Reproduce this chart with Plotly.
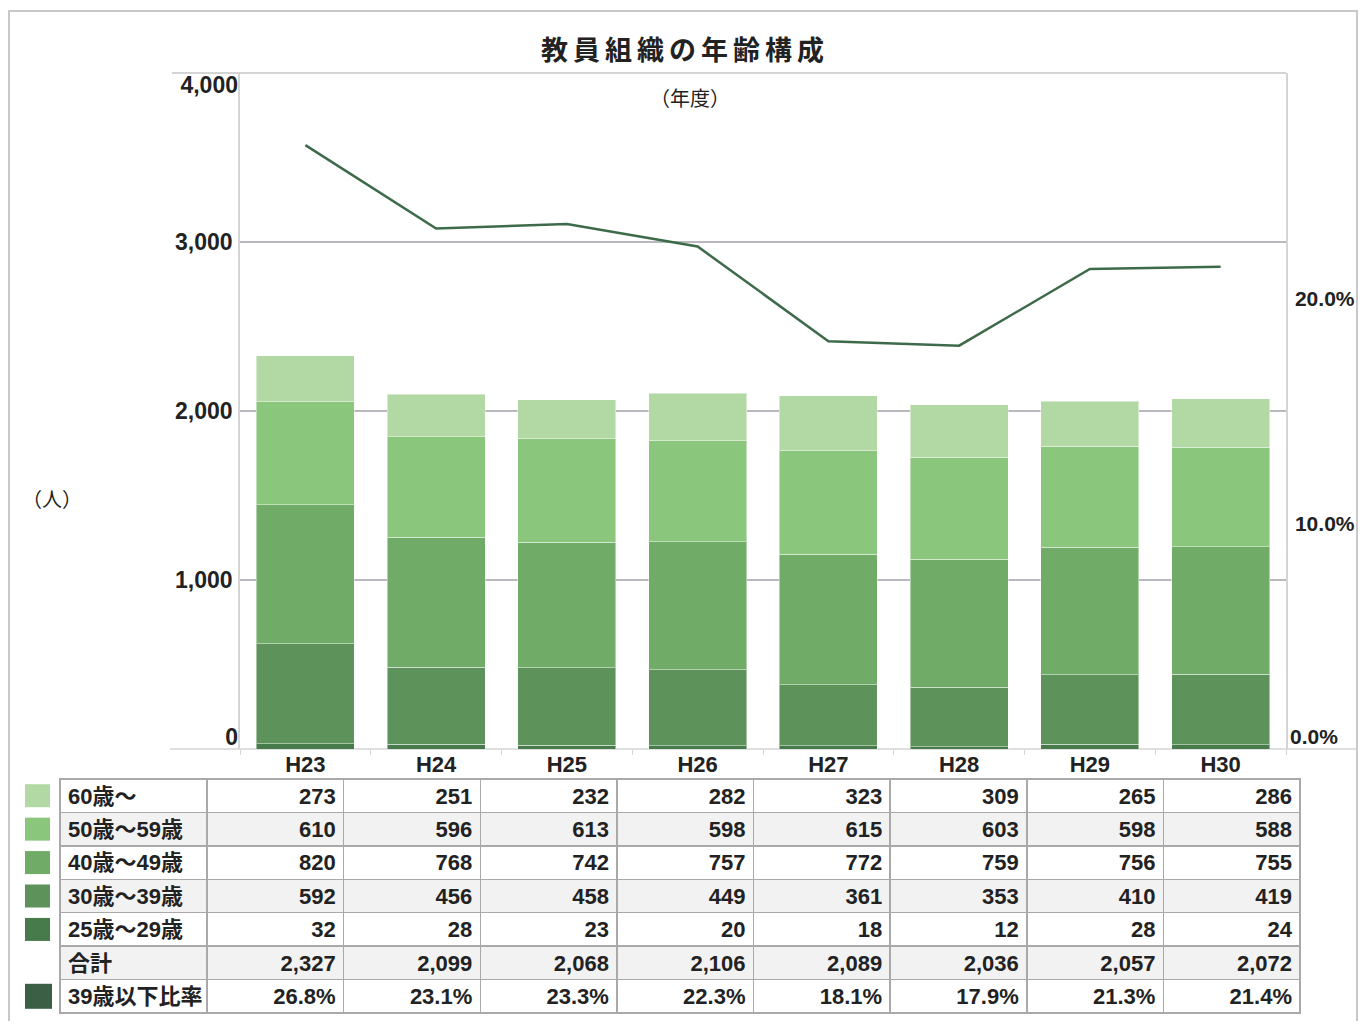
import plotly.graph_objects as go

# ---------------- data ----------------
years = ["H23", "H24", "H25", "H26", "H27", "H28", "H29", "H30"]
age_60_plus = [273, 251, 232, 282, 323, 309, 265, 286]
age_50_59 = [610, 596, 613, 598, 615, 603, 598, 588]
age_40_49 = [820, 768, 742, 757, 772, 759, 756, 755]
age_30_39 = [592, 456, 458, 449, 361, 353, 410, 419]
age_25_29 = [32, 28, 23, 20, 18, 12, 28, 24]
totals = [2327, 2099, 2068, 2106, 2089, 2036, 2057, 2072]
ratio_39_under = [26.8, 23.1, 23.3, 22.3, 18.1, 17.9, 21.3, 21.4]  # percent

row_labels = ["60歳〜", "50歳〜59歳", "40歳〜49歳", "30歳〜39歳", "25歳〜29歳", "合計", "39歳以下比率"]
title_text = "教員組織の年齢構成"
left_ticks_mid = [1000, 2000, 3000]
left_tick_min, left_tick_max = 0, 4000
right_ticks_mid = [0.1, 0.2]
right_tick_min = 0.0

# ---------------- styles ----------------
OFF = 8                     # default page body margin
W, H = 1366 - 2 * OFF, 1029 - 2 * OFF
col_60 = "#b2d9a4"
col_50 = "#8ac67c"
col_40 = "#70ab67"
col_30 = "#5d935a"
col_25 = "#487b4c"
col_ratio_line = "#3d6b4a"
col_ratio_swatch = "#3a5f45"
grid_col = "#b8b8be"
frame_col = "#d4d4d4"
text_col = "#222222"
sans = "Liberation Sans, Arial, Noto Sans CJK JP, sans-serif"
cjk = "Noto Sans CJK JP, sans-serif"


def px_x(p):
    return (p - OFF) / W


def px_y(p):
    return 1 - (p - OFF) / H


plot_l, plot_r, plot_t, plot_b = 240, 1286, 73, 749
y_range = [0, 4000]
y2_range = [0, 0.30]

fig = go.Figure()

series = [
    ("25歳〜29歳", age_25_29, col_25),
    ("30歳〜39歳", age_30_39, col_30),
    ("40歳〜49歳", age_40_49, col_40),
    ("50歳〜59歳", age_50_59, col_50),
    ("60歳〜", age_60_plus, col_60),
]
for name, vals, c in series:
    fig.add_trace(go.Bar(
        x=years, y=vals, name=name, marker=dict(color=c, line=dict(color="rgba(255,255,255,0.45)", width=1)),
        xaxis="x", yaxis="y", showlegend=False, hoverinfo="skip"))

fig.add_trace(go.Scatter(
    x=years, y=[v / 100 for v in ratio_39_under], mode="lines", name="39歳以下比率",
    line=dict(color=col_ratio_line, width=2.5), xaxis="x", yaxis="y2", showlegend=False))

# invisible helper traces so the label-only axes are drawn
for ax, vals in (("y3", totals), ("y4", totals), ("y5", [v / 100 for v in ratio_39_under])):
    fig.add_trace(go.Scatter(x=years, y=vals, mode="markers", marker=dict(opacity=0), xaxis="x", yaxis=ax,
                             showlegend=False, hoverinfo="skip"))

# ---------------- table ----------------
def fmt_int(v):
    return f"{v:,}"


header_vals = [row_labels[0]] + [fmt_int(v) for v in age_60_plus]
cols = [row_labels[1:]]
for i in range(len(years)):
    cols.append([fmt_int(age_50_59[i]), fmt_int(age_40_49[i]), fmt_int(age_30_39[i]),
                 fmt_int(age_25_29[i]), fmt_int(totals[i]), f"{ratio_39_under[i]:.1f}%"])

row_fills = ["#f2f2f2", "white", "#f2f2f2", "white", "#f2f2f2", "white"]
tbl_top, tbl_bot = 779, 1013
row_h = (tbl_bot - tbl_top) / 7
tbl_l, tbl_r = 60, 1300
line_col = "#a9a9a9"
tfont = dict(family=sans, size=22, color=text_col, weight="bold")

fig.add_trace(go.Table(
    domain=dict(x=[px_x(tbl_l), px_x(tbl_r)], y=[px_y(tbl_bot + 2), px_y(tbl_top)]),
    columnwidth=[147] + [136.6] * len(years),
    header=dict(values=header_vals, height=row_h, fill=dict(color="white"),
                line=dict(color=line_col, width=1.5),
                align=["left"] + ["right"] * len(years), font=tfont),
    cells=dict(values=cols, height=row_h, fill=dict(color=[row_fills] * (len(years) + 1)),
               line=dict(color=line_col, width=1.5),
               align=["left"] + ["right"] * len(years), font=tfont),
))

# ---------------- shapes ----------------
shapes = []
shapes.append(dict(type="rect", xref="paper", yref="paper", x0=px_x(9), x1=px_x(1357), y0=px_y(1045), y1=px_y(11),
                   line=dict(color="#c8c8c8", width=2), layer="below"))
shapes.append(dict(type="line", xref="paper", yref="paper", x0=px_x(172), x1=px_x(plot_r), y0=px_y(plot_t), y1=px_y(plot_t),
                   line=dict(color=frame_col, width=2), layer="below"))
shapes.append(dict(type="line", xref="paper", yref="paper", x0=px_x(170), x1=px_x(1357), y0=px_y(plot_b), y1=px_y(plot_b),
                   line=dict(color=frame_col, width=1.5), layer="below"))
swatch_cols = [col_60, col_50, col_40, col_30, col_25, None, col_ratio_swatch]
for i, c in enumerate(swatch_cols):
    if c is None:
        continue
    cy = tbl_top + row_h * (i + 0.5)
    half = 11.5 if i < 6 else 12.5
    x1 = 50 if i < 6 else 52
    shapes.append(dict(type="rect", xref="paper", yref="paper", x0=px_x(25), x1=px_x(x1),
                       y0=px_y(cy + half), y1=px_y(cy - half), line=dict(width=0), fillcolor=c))

annotations = [
    dict(text=f'<span style="letter-spacing:5px">{title_text}</span>', x=px_x(685), y=px_y(48), xref="paper", yref="paper",
         showarrow=False, xanchor="center", yanchor="middle",
         font=dict(family=cjk, size=27, color=text_col, weight="bold")),
    dict(text="（年度）", x=px_x(690), y=px_y(97), xref="paper", yref="paper", showarrow=False,
         xanchor="center", yanchor="middle", font=dict(family=cjk, size=20, color=text_col)),
    dict(text="（人）", x=px_x(52), y=px_y(498), xref="paper", yref="paper", showarrow=False,
         xanchor="center", yanchor="middle", font=dict(family=cjk, size=20, color=text_col)),
]

ydom = [px_y(plot_b), px_y(plot_t)]
left_font = dict(family=sans, size=23, color=text_col, weight="bold")
right_font = dict(family=sans, size=21, color=text_col, weight="bold")
label_only = dict(domain=ydom, overlaying="y", automargin=False, showgrid=False, zeroline=False,
                  showline=False, ticks="", anchor="x")

fig.update_layout(
    width=W, height=H, margin=dict(l=0, r=0, t=0, b=0, pad=0),
    paper_bgcolor="white", plot_bgcolor="white",
    barmode="stack", bargap=0.25,
    showlegend=False,
    shapes=shapes, annotations=annotations,
    xaxis=dict(domain=[px_x(plot_l), px_x(plot_r)], type="category", automargin=False,
               showgrid=False, showline=False, zeroline=False,
               ticks="outside", tickson="boundaries", ticklen=5, tickcolor=frame_col, tickwidth=1,
               tickfont=dict(family=sans, size=22, color=text_col, weight="bold"), anchor="y"),
    yaxis=dict(domain=ydom, range=y_range, tickvals=left_ticks_mid, tickformat=",",
               automargin=False, showgrid=True, gridcolor=grid_col, gridwidth=2, zeroline=False,
               showline=True, linecolor=frame_col, linewidth=1.5, ticks="", ticklabelstandoff=1,
               tickfont=left_font, anchor="x"),
    yaxis2=dict(domain=ydom, range=y2_range, tickvals=right_ticks_mid, tickformat=".1%",
                overlaying="y", side="right", automargin=False, showgrid=False, zeroline=False,
                showline=True, linecolor=frame_col, linewidth=1.5, ticks="", ticklabelstandoff=3,
                tickfont=right_font, anchor="x"),
    yaxis3=dict(**label_only, side="left", range=y_range, tickvals=[left_tick_min], tickformat=",",
                ticklabelshift=-12, ticklabelstandoff=1, tickfont=left_font),
    yaxis4=dict(**label_only, side="left", range=y_range, tickvals=[left_tick_max], tickformat=",",
                ticklabelshift=12, ticklabelstandoff=1, tickfont=left_font),
    yaxis5=dict(**label_only, side="right", range=y2_range, tickvals=[right_tick_min], tickformat=".1%",
                ticklabelshift=-12, ticklabelstandoff=3, tickfont=right_font),
)

fig.write_html("out.html")
